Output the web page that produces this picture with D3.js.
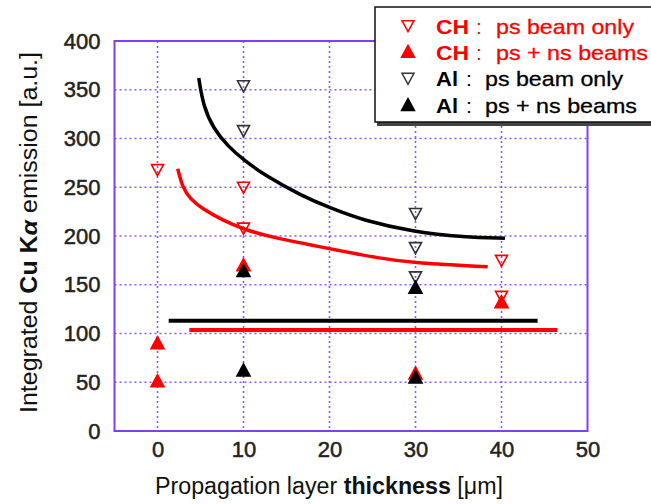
<!DOCTYPE html>
<html>
<head>
<meta charset="utf-8">
<script src="https://cdn.jsdelivr.net/npm/d3@7"></script>
<style>
  html, body { margin: 0; padding: 0; background: #fff; }
  svg { display: block; font-family: "Liberation Sans", Arial, sans-serif; }
</style>
</head>
<body>
<svg id="chart" width="651" height="504"></svg>
<script>
// tick values
const xTicks = [0, 10, 20, 30, 40, 50];
const yTicks = [0, 50, 100, 150, 200, 250, 300, 350, 400];
const xGrid = [0, 10, 20, 30, 40];
const yGrid = [50, 100, 150, 200, 250, 300, 350];

// CH : ps beam only (open red, pointing down)
const chPsX = [0, 10, 10, 40, 40];
const chPsY = [268, 250, 208, 175, 138];
// CH : ps + ns beams (filled red, pointing up)
const chPsNsX = [0, 0, 10, 30, 40];
const chPsNsY = [90, 51, 170, 59, 132];
// Al : ps beam only (open black, pointing down)
const alPsX = [10, 10, 30, 30, 30];
const alPsY = [354, 308, 223, 188, 158];
// Al : ps + ns beams (filled black, pointing up)
const alPsNsX = [10, 10, 30, 30];
const alPsNsY = [164, 62, 147, 55];

// fitted curves
const alFitX = [4.8, 5.3, 6.5, 8.2, 10, 12.7, 16.6, 20, 23.9, 29.9, 35.6, 40.4];
const alFitY = [362, 334, 310, 292, 278, 261, 242, 229, 216, 204, 199, 197.6];
const chFitX = [2.35, 2.9, 3.8, 5.2, 7.6, 10, 13.1, 20, 25.9, 30, 38.4];
const chFitY = [269, 250, 238, 228, 216, 207, 199, 187, 177, 172, 168.5];
// flat levels
const alFlatX = [1.3, 44.2];
const alFlatY = [113, 113];
const chFlatX = [3.7, 46.5];
const chFlatY = [103.5, 103.5];

const RED = "#ff0000";
const BLACK = "#000000";
const FRAME = "#7e3ff5";
const GRID = "#8c57ff";

const svg = d3.select("#chart");
const plot = {left: 114.5, right: 587.5, top: 41, bottom: 431};

const x = d3.scaleLinear().domain([-5, 50]).range([plot.left, plot.right]);
const y = d3.scaleLinear().domain([0, 400]).range([plot.bottom, plot.top]);

// grid
svg.append("g").selectAll("line").data(xGrid).join("line")
    .attr("x1", d => x(d)).attr("x2", d => x(d))
    .attr("y1", plot.top).attr("y2", plot.bottom)
    .attr("stroke", GRID).attr("stroke-width", 1.6).attr("stroke-dasharray", "2,3");
svg.append("g").selectAll("line").data(yGrid).join("line")
    .attr("x1", plot.left).attr("x2", plot.right)
    .attr("y1", d => y(d)).attr("y2", d => y(d))
    .attr("stroke", GRID).attr("stroke-width", 1.6).attr("stroke-dasharray", "2,3");

// axes (labels only, frame drawn separately)
const xAxis = svg.append("g")
    .attr("transform", `translate(0,${plot.bottom})`)
    .call(d3.axisBottom(x).tickValues(xTicks).tickSize(0).tickPadding(10));
const yAxis = svg.append("g")
    .attr("transform", `translate(${plot.left},0)`)
    .call(d3.axisLeft(y).tickValues(yTicks).tickSize(0).tickPadding(14));
[xAxis, yAxis].forEach(a => {
    a.select(".domain").remove();
    a.selectAll("text").attr("font-size", 22).attr("fill", "#222")
        .attr("stroke", "#222").attr("stroke-width", 0.5)
        .attr("font-family", "'Liberation Sans', Arial, sans-serif");
});

// frame
svg.append("rect")
    .attr("x", plot.left).attr("y", plot.top)
    .attr("width", plot.right - plot.left).attr("height", plot.bottom - plot.top)
    .attr("fill", "none").attr("stroke", FRAME).attr("stroke-width", 2);

// markers
const triDown = (s) => `M${-s/2},${-s*0.42}L${s/2},${-s*0.42}L0,${s*0.5}Z`;
const triUp = (s) => `M${-s/2},${s*0.42}L${s/2},${s*0.42}L0,${-s*0.5}Z`;

function markers(xs, ys, path, fill, stroke) {
    svg.append("g").selectAll("path").data(xs).join("path")
        .attr("transform", (d, i) => `translate(${x(d)},${y(ys[i])})`)
        .attr("d", path)
        .attr("fill", fill)
        .attr("stroke", stroke)
        .attr("stroke-width", 1.6);
}
markers(chPsX, chPsY, triDown(12), "none", RED);
markers(chPsNsX, chPsNsY, triUp(13), RED, RED);
markers(alPsX, alPsY, triDown(12), "none", "#333");
markers(alPsNsX, alPsNsY, triUp(13), BLACK, BLACK);

// curves
function curve(xs, ys, color, w, c) {
    const line = d3.line().x(d => x(d[0])).y(d => y(d[1])).curve(c);
    svg.append("path")
        .attr("d", line(xs.map((d, i) => [d, ys[i]])))
        .attr("fill", "none").attr("stroke", color).attr("stroke-width", w)
        .attr("stroke-linecap", "butt");
}
curve(alFitX, alFitY, BLACK, 3.5, d3.curveBasis);
curve(chFitX, chFitY, RED, 3.5, d3.curveBasis);
curve(alFlatX, alFlatY, BLACK, 4, d3.curveLinear);
curve(chFlatX, chFlatY, RED, 4, d3.curveLinear);

// axis titles
const xt = svg.append("text")
    .attr("x", 155).attr("y", 494)
    .attr("font-size", 23).attr("fill", "#111")
    .attr("textLength", 348).attr("lengthAdjust", "spacingAndGlyphs");
xt.append("tspan").text("Propagation layer ");
xt.append("tspan").attr("font-weight", "bold").text("thickness");
xt.append("tspan").text(" [\u03bcm]");

const yt = svg.append("text")
    .attr("transform", "translate(37,413) rotate(-90)")
    .attr("font-size", 23).attr("fill", "#111")
    .attr("textLength", 361).attr("lengthAdjust", "spacingAndGlyphs");
yt.append("tspan").text("Integrated ");
yt.append("tspan").attr("font-weight", "bold").text("Cu K");
yt.append("tspan").attr("font-weight", "bold").attr("font-style", "italic").text("\u03b1");
yt.append("tspan").text(" emission [a.u.]");

// legend
const legendRows = [
    {mat: "CH", text: "ps beam only", color: RED, shape: "down", fill: "none"},
    {mat: "CH", text: "ps + ns beams", color: RED, shape: "up", fill: RED},
    {mat: "Al", text: "ps beam only", color: BLACK, shape: "down", fill: "none"},
    {mat: "Al", text: "ps + ns beams", color: BLACK, shape: "up", fill: BLACK}
];
const lg = svg.append("g");
lg.append("rect").attr("x", 377).attr("y", 9).attr("width", 290).attr("height", 117)
    .attr("fill", "#444");
lg.append("rect").attr("x", 375).attr("y", 7).attr("width", 290).attr("height", 115)
    .attr("fill", "#fff").attr("stroke", "#111").attr("stroke-width", 1.5);

const rowY = [25.7, 51.7, 78.3, 105];
legendRows.forEach((r, i) => {
    const cy = rowY[i];
    lg.append("path")
        .attr("transform", `translate(408,${cy})`)
        .attr("d", r.shape === "down" ? triDown(12) : triUp(13))
        .attr("fill", r.fill)
        .attr("stroke", r.shape === "down" && r.color === BLACK ? "#333" : r.color)
        .attr("stroke-width", 1.5);
    const isCH = r.mat === "CH";
    lg.append("text").attr("x", 436).attr("y", cy + 8)
        .attr("font-size", 21).attr("font-weight", "bold").attr("fill", r.color)
        .attr("textLength", isCH ? 33 : 22).attr("lengthAdjust", "spacingAndGlyphs")
        .text(r.mat);
    lg.append("text").attr("x", isCH ? 476 : 466).attr("y", cy + 8)
        .attr("font-size", 21).attr("fill", r.color)
        .text(":");
    lg.append("text").attr("x", isCH ? 496 : 485).attr("y", cy + 8)
        .attr("font-size", 21).attr("fill", r.color)
        .attr("stroke", r.color).attr("stroke-width", 0.3)
        .attr("textLength", r.text === "ps beam only" ? 138 : 152)
        .attr("lengthAdjust", "spacingAndGlyphs")
        .text(r.text);
});
</script>
</body>
</html>
